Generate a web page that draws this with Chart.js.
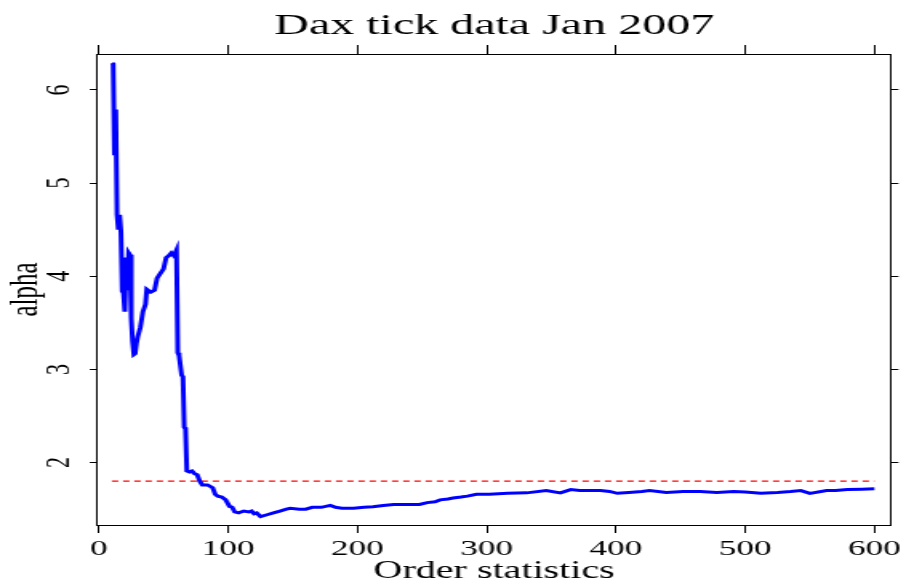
<!DOCTYPE html>
<html>
<head>
<meta charset="utf-8">
<script src="https://cdn.jsdelivr.net/npm/chart.js@4.4.1/dist/chart.umd.min.js"></script>
<style>
  html, body { margin: 0; padding: 0; background: #fff; overflow: hidden; }
  /* the reference is a square R plot stretched sideways, so draw square and stretch */
  #wrap { width: 566px; height: 587px; transform: scaleX(1.6007); transform-origin: 0 0; }
</style>
</head>
<body>
<div id="wrap"><canvas id="chart" width="566" height="587"></canvas></div>
<script>
// order statistic k and the Hill estimate of alpha
var orderK = [10, 11, 12, 13, 14, 15, 16, 17, 18, 19, 20, 21, 22, 23, 24, 25, 26, 27, 28, 29,
    30, 32, 34, 36, 37, 40, 43, 45, 47, 50, 52, 54, 56, 58, 60, 61, 62, 64, 65, 66,
    67, 68, 70, 72, 74, 76, 78, 80, 84, 88, 90, 92, 95, 98, 101, 103, 105, 108, 112, 116,
    118, 120, 122, 125, 130, 135, 140, 145, 148, 155, 160, 165, 172, 179, 183, 188, 197, 205, 212, 220,
    228, 240, 248, 254, 260, 264, 270, 274, 280, 285, 292, 302, 316, 331, 346, 357, 365, 372, 388, 395,
    401, 410, 420, 426, 439, 452, 465, 478, 491, 500, 512, 525, 535, 543, 550, 563, 570, 579, 590, 600];
var alpha = [6.29, 6.28, 5.30, 5.79, 4.66, 4.50, 4.66, 4.48, 3.84, 3.82, 3.62, 4.20, 3.85, 4.25, 4.23, 3.55, 3.30, 3.16, 3.17, 3.28,
    3.35, 3.45, 3.62, 3.70, 3.86, 3.83, 3.85, 3.98, 4.02, 4.08, 4.20, 4.22, 4.25, 4.22, 4.28, 3.18, 3.15, 2.94, 2.92, 2.38,
    2.36, 1.91, 1.90, 1.91, 1.88, 1.87, 1.80, 1.76, 1.76, 1.73, 1.66, 1.64, 1.63, 1.60, 1.53, 1.52, 1.47, 1.46, 1.48, 1.47,
    1.48, 1.45, 1.46, 1.42, 1.44, 1.46, 1.48, 1.50, 1.51, 1.50, 1.50, 1.52, 1.52, 1.54, 1.52, 1.51, 1.51, 1.52, 1.525, 1.54,
    1.55, 1.55, 1.55, 1.57, 1.58, 1.60, 1.61, 1.62, 1.63, 1.64, 1.66, 1.66, 1.67, 1.675, 1.70, 1.675, 1.71, 1.70, 1.70, 1.69,
    1.67, 1.68, 1.69, 1.70, 1.68, 1.69, 1.69, 1.68, 1.69, 1.685, 1.67, 1.68, 1.69, 1.70, 1.67, 1.70, 1.70, 1.71, 1.715, 1.72];

// red dashed reference level
var refK = [10, 600];
var refAlpha = [1.8, 1.8];

var xTicks = [0, 100, 200, 300, 400, 500, 600];
var yTicks = [2, 3, 4, 5, 6];

var serif = 'Liberation Serif';

function pts(xs, ys) {
    return xs.map(function(x, i) { return { x: x, y: ys[i] }; });
}

function keepTicks(list) {
    return function(scale) {
        scale.ticks = list.map(function(v) { return { value: v }; });
    };
}

function fixSize(prop, size) {
    return function(scale) { scale[prop] = size; };
}

var axisLine = { display: true, color: '#000', width: 1 };

new Chart(document.getElementById('chart'), {
    type: 'line',
    data: {
        datasets: [{
            data: pts(orderK, alpha),
            borderColor: '#0000ff',
            borderWidth: 3,
            pointRadius: 0,
            tension: 0,
            fill: false
        }, {
            data: pts(refK, refAlpha),
            borderColor: '#ff0000',
            borderWidth: 1.2,
            borderDash: [4, 3],
            pointRadius: 0,
            fill: false
        }]
    },
    options: {
        responsive: false,
        animation: false,
        layout: { padding: 0 },
        plugins: {
            legend: { display: false },
            tooltip: { enabled: false },
            title: {
                display: true,
                fullSize: false,   // centre over the plot box, not the canvas
                text: 'Dax tick data Jan 2007',
                color: '#000',
                font: { family: serif, size: 30, weight: 'normal' },
                padding: { top: 8, bottom: 0 }
            }
        },
        scales: {
            x: {
                type: 'linear', position: 'bottom', min: -1.5, max: 613,
                afterBuildTicks: keepTicks(xTicks),
                afterFit: fixSize('height', 62),
                grid: { drawOnChartArea: false, tickLength: 8, color: '#000' },
                border: axisLine,
                ticks: { color: '#000', padding: 3, maxRotation: 0, font: { family: serif, size: 22 } },
                title: {
                    display: true, text: 'Order statistics', color: '#000',
                    font: { family: serif, size: 25 }, padding: { top: 0, bottom: 1 }
                }
            },
            x2: {
                type: 'linear', position: 'top', min: -1.5, max: 613,
                afterBuildTicks: keepTicks(xTicks),
                afterFit: fixSize('height', 10),
                grid: { drawOnChartArea: false, tickLength: 9, color: '#000' },
                border: axisLine,
                ticks: { display: false }
            },
            y: {
                type: 'linear', position: 'left', min: 1.33, max: 6.386,
                afterBuildTicks: keepTicks(yTicks),
                afterFit: fixSize('width', 60.6),
                grid: { drawOnChartArea: false, tickLength: 4.5, color: '#000' },
                border: axisLine,
                ticks: {
                    color: '#000', padding: 13.5, minRotation: 90, maxRotation: 90,
                    crossAlign: 'center', font: { family: serif, size: 22 }
                },
                title: {
                    display: true, text: 'alpha', color: '#000',
                    font: { family: serif, size: 25 }, padding: { top: 1.5, bottom: 0 }
                }
            },
            y2: {
                type: 'linear', position: 'right', min: 1.33, max: 6.386,
                afterBuildTicks: keepTicks(yTicks),
                afterFit: fixSize('width', 9.1),
                grid: { drawOnChartArea: false, tickLength: 4.5, color: '#000' },
                border: axisLine,
                ticks: { display: false }
            }
        }
    }
});
</script>
</body>
</html>
